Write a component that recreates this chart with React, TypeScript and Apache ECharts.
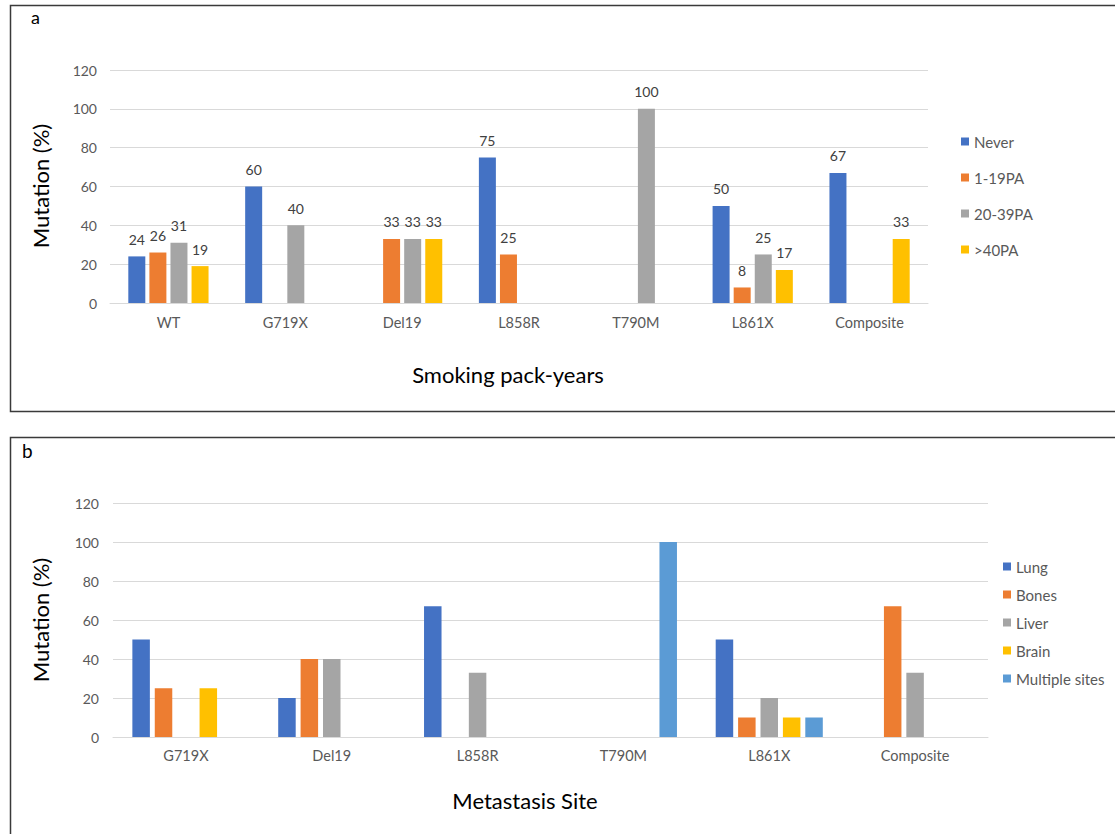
import React, { useEffect, useRef } from "react";
import * as echarts from "echarts";

const catsA = ["WT", "G719X", "Del19", "L858R", "T790M", "L861X", "Composite"];
const never = [24, 60, null, 75, null, 50, 67];
const pa1_19 = [26, null, 33, 25, null, 8, null];
const pa20_39 = [31, 40, 33, null, 100, 25, null];
const pa40 = [19, null, 33, null, null, 17, 33];

const catsB = ["G719X", "Del19", "L858R", "T790M", "L861X", "Composite"];
const lung = [50, 20, 67, null, 50, null];
const bones = [25, 40, null, null, 10, 67];
const liver = [null, 40, 33, null, 20, 33];
const brain = [25, null, null, null, 10, null];
const multiple = [null, null, null, 100, 10, null];

const yTicks = [0, 20, 40, 60, 80, 100, 120];

const C = { blue: "#4472C4", orange: "#ED7D31", grey: "#A5A5A5", yellow: "#FFC000", lblue: "#5B9BD5" };
const FONT = "Lato, 'Open Sans', sans-serif";

export default function App() {
  const ref = useRef<HTMLDivElement>(null);
  useEffect(() => {
    if (!ref.current) return;
    const chart = echarts.init(ref.current, undefined, { renderer: "svg" });
    const yAxisBase = (gi: number, margin: number) => ({
      type: "value",
      gridIndex: gi,
      min: yTicks[0],
      max: yTicks[yTicks.length - 1],
      interval: 20,
      axisLine: { show: false },
      axisTick: { show: false },
      axisLabel: { color: "#595959", fontSize: 14, fontFamily: FONT, margin },
      splitLine: { lineStyle: { color: "#D9D9D9", width: 1 } },
    });
    const xAxisBase = (gi: number, data: string[], margin: number) => ({
      type: "category",
      gridIndex: gi,
      data,
      axisLine: { lineStyle: { color: "#D9D9D9", width: 1 } },
      axisTick: { show: false },
      axisLabel: { color: "#595959", fontSize: 14.5, fontFamily: FONT, margin },
    });
    const barA = (name: string, data: (number | null)[], color: string) => ({
      name,
      type: "bar",
      xAxisIndex: 0,
      yAxisIndex: 0,
      data,
      barWidth: 17,
      barGap: "24%",
      itemStyle: { color },
      label: {
        show: true,
        position: "top",
        distance: 10,
        color: "#404040",
        fontSize: 14,
        fontFamily: FONT,
      },
    });
    const barB = (name: string, data: (number | null)[], color: string) => ({
      name,
      type: "bar",
      xAxisIndex: 1,
      yAxisIndex: 1,
      data,
      barWidth: 17.5,
      barGap: "28%",
      itemStyle: { color },
    });
    const legendBase = {
      orient: "vertical",
      icon: "rect",
      itemWidth: 8,
      itemHeight: 8,
      textStyle: { color: "#595959", fontSize: 15, fontFamily: FONT },
    };
    chart.setOption({
      animation: false,
      backgroundColor: "#ffffff",
      grid: [
        { left: 110, top: 70, width: 818, height: 233 },
        { left: 113, top: 503, width: 875, height: 234 },
      ],
      xAxis: [xAxisBase(0, catsA, 12), xAxisBase(1, catsB, 11)],
      yAxis: [yAxisBase(0, 13), yAxisBase(1, 14)],
      legend: [
        {
          ...legendBase,
          data: ["Never", "1-19PA", "20-39PA", ">40PA"],
          left: 956,
          top: 129,
          itemGap: 21,
        },
        {
          ...legendBase,
          data: ["Lung", "Bones", "Liver", "Brain", "Multiple sites"],
          left: 998,
          top: 554,
          itemGap: 13,
        },
      ],
      series: [
        barA("Never", never, C.blue),
        barA("1-19PA", pa1_19, C.orange),
        barA("20-39PA", pa20_39, C.grey),
        barA(">40PA", pa40, C.yellow),
        barB("Lung", lung, C.blue),
        barB("Bones", bones, C.orange),
        barB("Liver", liver, C.grey),
        barB("Brain", brain, C.yellow),
        barB("Multiple sites", multiple, C.lblue),
      ],
      graphic: [
        {
          type: "rect",
          shape: { x: 10.5, y: 5.5, width: 1200, height: 406 },
          style: { fill: "none", stroke: "#3a3a3a", lineWidth: 1.5 },
          silent: true,
        },
        {
          type: "rect",
          shape: { x: 10.5, y: 437.5, width: 1200, height: 500 },
          style: { fill: "none", stroke: "#3a3a3a", lineWidth: 1.5 },
          silent: true,
        },
        {
          type: "text",
          x: 31,
          y: 8,
          style: { text: "a", fontSize: 18, fontFamily: FONT, fill: "#000" },
        },
        {
          type: "text",
          x: 22,
          y: 441,
          style: { text: "b", fontSize: 19, fontFamily: FONT, fill: "#000" },
        },
        {
          type: "text",
          x: 40,
          y: 186,
          rotation: Math.PI / 2,
          style: {
            text: "Mutation (%)",
            fontSize: 22,
            fontFamily: FONT,
            fill: "#000",
            align: "center",
            verticalAlign: "middle",
          },
        },
        {
          type: "text",
          x: 40,
          y: 620,
          rotation: Math.PI / 2,
          style: {
            text: "Mutation (%)",
            fontSize: 22,
            fontFamily: FONT,
            fill: "#000",
            align: "center",
            verticalAlign: "middle",
          },
        },
        {
          type: "text",
          x: 508,
          y: 374,
          style: {
            text: "Smoking pack-years",
            fontSize: 22,
            fontFamily: FONT,
            fill: "#000",
            align: "center",
            verticalAlign: "middle",
          },
        },
        {
          type: "text",
          x: 525,
          y: 800,
          style: {
            text: "Metastasis Site",
            fontSize: 22,
            fontFamily: FONT,
            fill: "#000",
            align: "center",
            verticalAlign: "middle",
          },
        },
      ],
    });
    return () => chart.dispose();
  }, []);
  return (
    <div
      ref={ref}
      style={{ position: "fixed", left: 0, top: 0, width: 1115, height: 834, background: "#fff" }}
    />
  );
}
